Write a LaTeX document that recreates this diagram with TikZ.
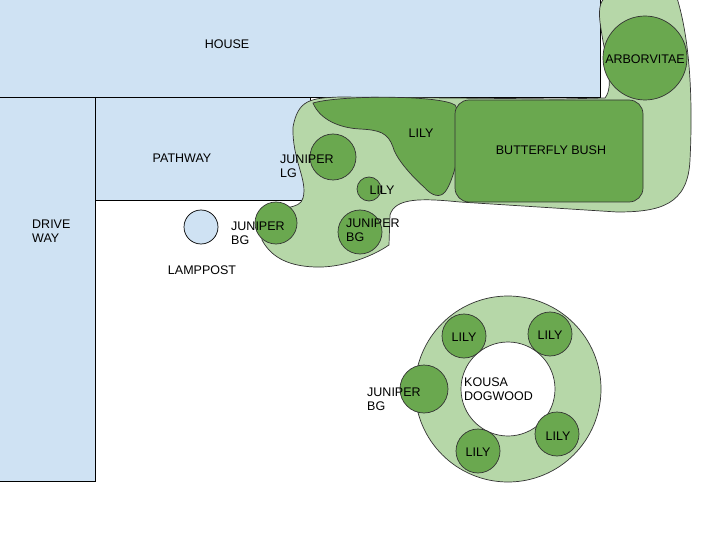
\documentclass[tikz,border=0pt]{standalone}
\usepackage{fontspec}
\setmainfont{Liberation Sans}
\begin{document}
\begin{tikzpicture}[x=1pt,y=-1pt,
  area/.style={fill=blue!10!cyan!8!white,fill=cblue,draw=black,line width=0.7pt},
  bed/.style={fill=lgreen,draw=black!80,line width=0.7pt},
  plant/.style={fill=dgreen,draw=black!80,line width=0.7pt},
  lbl/.style={font=\fontsize{12.5}{14}\selectfont,text=black,align=left,inner sep=0pt}]
\definecolor{cblue}{HTML}{CFE2F3}
\definecolor{lgreen}{HTML}{B6D7A8}
\definecolor{dgreen}{HTML}{6AA84F}
\useasboundingbox (0,0) rectangle (720,540);
% areas
\path[area] (-1,-1) rectangle (600,97);
\path[area] (-1,97) rectangle (95,481);
\path[area] (95,97) rectangle (310,200);
\path[area] (201,227) circle (17);
% bed
\path[bed] (293,127) .. controls (298,100) and (310,98) .. (340,97)
  -- (560,99) -- (605,98) .. controls (615,85) and (605,60) .. (600,22)
  .. controls (598,5) and (602,0) .. (605,-2) -- (677,-2)
  .. controls (690,40) and (693,100) .. (690,160)
  .. controls (688,205) and (660,212) .. (617,212)
  -- (460,202) .. controls (420,198) and (395,198) .. (390,215)
  -- (389,245) .. controls (370,258) and (340,268) .. (315,267)
  .. controls (285,266) and (270,255) .. (262,240)
  -- (262,210) .. controls (280,207) and (300,210) .. (303,198)
  .. controls (308,180) and (292,160) .. (293,127) -- cycle;
\path[plant] (313,103) .. controls (340,95) and (440,95) .. (455,105)
  .. controls (468,125) and (455,180) .. (445,192)
  .. controls (440,198) and (432,196) .. (425,188)
  .. controls (405,170) and (395,155) .. (393,147)
  .. controls (388,133) and (380,130) .. (360,129)
  .. controls (340,128) and (320,120) .. (313,103) -- cycle;
\path[plant,rounded corners=14pt] (455,100) rectangle (643,202);
\node[plant,circle,minimum size=84pt,inner sep=0pt] (arb) at (645,58) {};
\node[plant,circle,minimum size=46pt,inner sep=0pt] (jlg) at (333,157) {};
\node[plant,circle,minimum size=24pt,inner sep=0pt] (lily2) at (369,189) {};
\node[plant,circle,minimum size=44pt,inner sep=0pt] (jbg) at (360,232) {};
\node[plant,circle,minimum size=42pt,inner sep=0pt] (jbg2) at (276,223) {};
% ring
\path[bed] (508,389) circle (93);
\path[fill=white,draw=black!80,line width=0.7pt] (508,389) circle (47);
\node[plant,circle,minimum size=44pt,inner sep=0pt] (r1) at (464,336) {};
\node[plant,circle,minimum size=44pt,inner sep=0pt] (r2) at (550,334) {};
\node[plant,circle,minimum size=48pt,inner sep=0pt] (r3) at (424,389) {};
\node[plant,circle,minimum size=44pt,inner sep=0pt] (r4) at (478,451) {};
\node[plant,circle,minimum size=44pt,inner sep=0pt] (r5) at (557,434) {};
% labels
\node[lbl] (t1) at (227,44) {HOUSE};
\node[lbl] (t2) at (182,158) {PATHWAY};
\node[lbl,anchor=west] (t3) at (32,231) {DRIVE\\WAY};
\node[lbl] (t4) at (202,270) {LAMPPOST};
\node[lbl] (t5) at (645,59) {ARBORVITAE};
\node[lbl] (t6) at (551,150) {BUTTERFLY BUSH};
\node[lbl] (t7) at (421,133) {LILY};
\node[lbl,anchor=west] (t8) at (280,166) {JUNIPER\\LG};
\node[lbl] (t9) at (382,190) {LILY};
\node[lbl,anchor=west] (t10) at (231,233) {JUNIPER\\BG};
\node[lbl,anchor=west] (t11) at (346,230) {JUNIPER\\BG};
\node[lbl] (t12) at (464,337) {LILY};
\node[lbl] (t13) at (550,335) {LILY};
\node[lbl,anchor=west] (t14) at (367,399) {JUNIPER\\BG};
\node[lbl,anchor=west] (t15) at (464,389) {KOUSA\\DOGWOOD};
\node[lbl] (t16) at (478,452) {LILY};
\node[lbl] (t17) at (558,436) {LILY};
\end{tikzpicture}
\end{document}
